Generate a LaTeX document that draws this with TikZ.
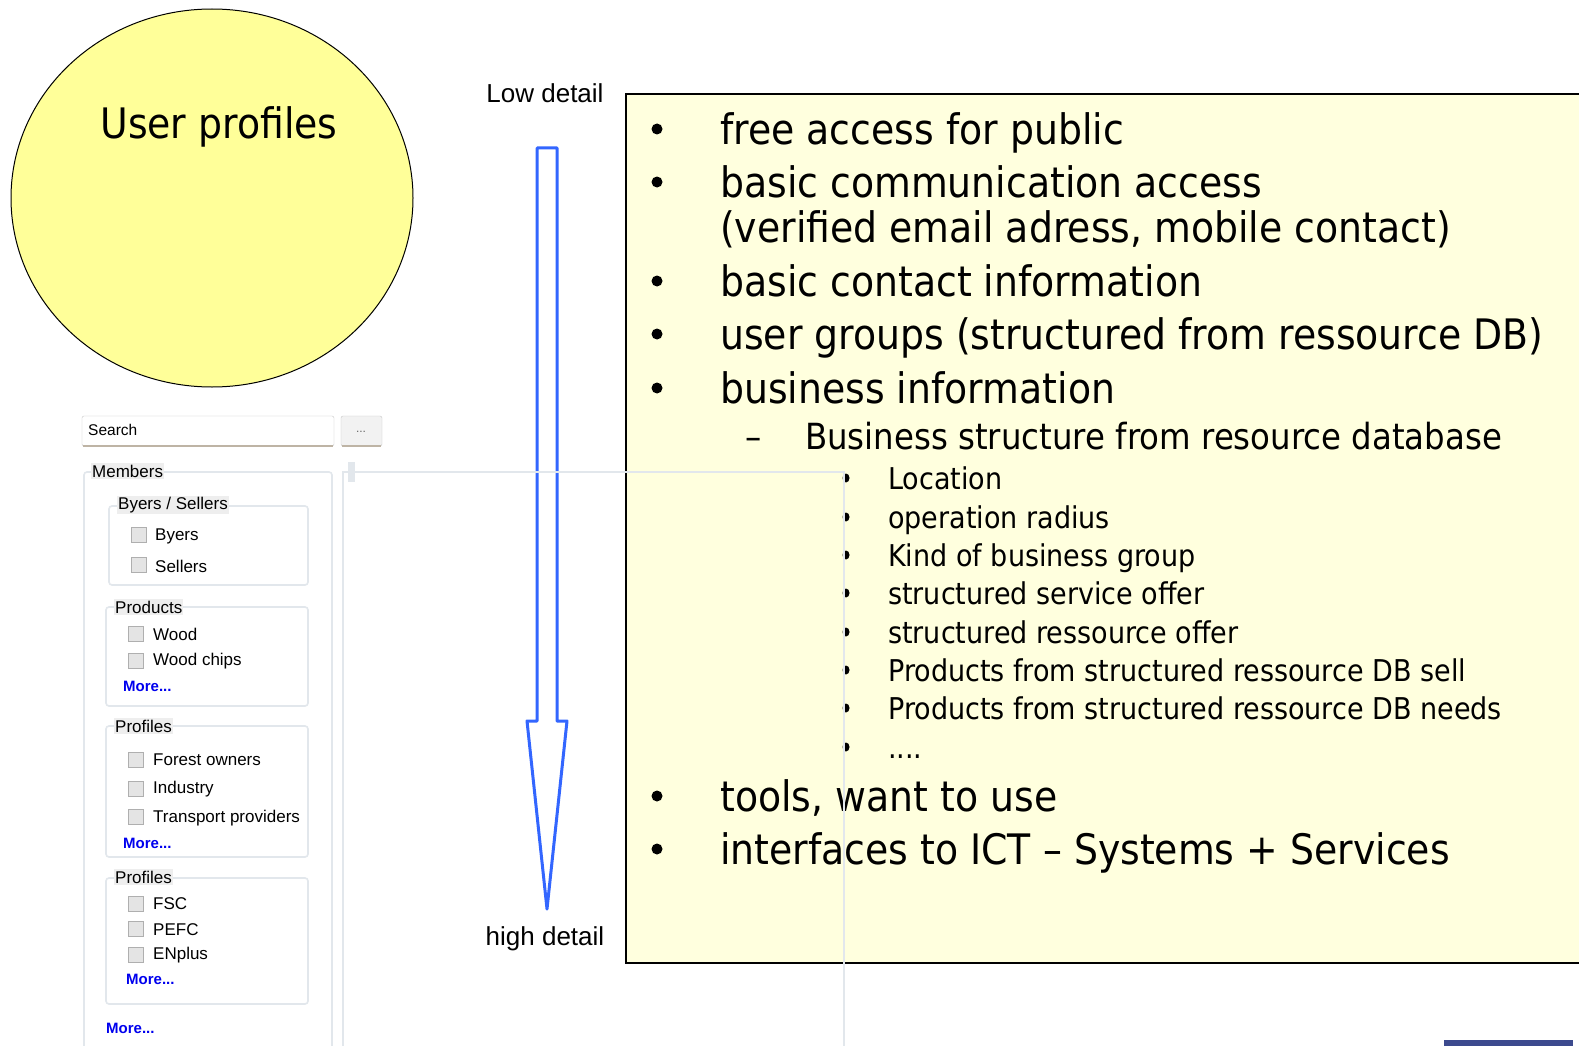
\documentclass[tikz,border=0pt]{standalone}
\usepackage{fontspec}
\setmainfont{Liberation Sans}
\newfontfamily\tah[FakeStretch=0.90]{DejaVu Sans}
\definecolor{circfill}{RGB}{255,255,153}
\definecolor{boxfill}{RGB}{255,255,222}
\definecolor{arrowblue}{RGB}{51,102,255}
\definecolor{uigray}{RGB}{226,231,236}
\definecolor{legendbg}{RGB}{238,238,238}
\definecolor{chkborder}{RGB}{175,175,175}
\definecolor{chkfill}{RGB}{228,228,228}
\definecolor{moreblue}{RGB}{0,0,238}
\definecolor{tanline}{RGB}{190,180,165}
\definecolor{barblue}{RGB}{60,74,142}
\newcommand\fMain{\tah\fontsize{42}{44}\selectfont}
\newcommand\fSub{\tah\fontsize{36}{40}\selectfont}
\newcommand\fSubsub{\tah\fontsize{30}{34}\selectfont}
\newcommand\fUi{\fontsize{17}{20}\selectfont}
\tikzset{
  uiframe/.style={draw=uigray, line width=1.6pt, rounded corners=3pt},
  legend/.style={fill=legendbg, inner xsep=1pt, inner ysep=1.5pt, anchor=west, font=\fUi},
  chk/.style={draw=chkborder, fill=chkfill, minimum size=15pt, inner sep=0pt, line width=1pt, anchor=west},
  uiitem/.style={anchor=west, font=\fUi, inner sep=0pt},
  more/.style={anchor=west, font=\fontsize{15}{18}\selectfont\bfseries, text=moreblue, inner sep=0pt},
  mainitem/.style={anchor=base west, inner sep=0pt, font=\fMain},
  subitem/.style={anchor=base west, inner sep=0pt, font=\fSub},
  subsubitem/.style={anchor=base west, inner sep=0pt, font=\fSubsub},
  detail/.style={inner sep=0pt, font=\fontsize{26}{30}\selectfont},
}
\begin{document}
\begin{tikzpicture}[x=1pt,y=-1pt]
\useasboundingbox (0,0) rectangle (1579,1046);
\fill[white] (0,0) rectangle (1579,1046);

% circle
\draw[fill=circfill, line width=1pt] (212,198) ellipse [x radius=201, y radius=189];
\node[anchor=base, inner sep=0pt, font=\fMain] (up) at (219,139) {User profiles};

% labels
\node[detail] (low) at (545,93) {Low detail};
\node[detail] (high) at (545,939) {high detail};

% arrow
\draw[arrowblue, line width=3pt, fill=white, line join=round]
  (537,148) -- (557,148) -- (557,721) -- (567,721) -- (547,909) -- (527,721) -- (537,721) -- cycle;

% yellow box
\draw[fill=boxfill, line width=2pt] (626,94) rectangle (1600,963);

% main bullets
\foreach \y in {129,182,281,334,388,796,849} \fill (657,\y) circle (5.5);
\node[mainitem] (i1) at (720,144) {free access for public};
\node[mainitem] (i2) at (720,197) {basic communication access};
\node[mainitem] (i2b) at (720,242) {(verified email adress, mobile contact)};
\node[mainitem] (i3) at (720,296) {basic contact information};
\node[mainitem] (i4) at (720,349) {user groups (structured from ressource DB)};
\node[mainitem] (i5) at (720,403) {business information};
\node[subitem] (dash) at (745,449) {–};
\node[subitem] (s1) at (805,449) {Business structure from resource database};
\foreach \y in {478,517,555,593,632,670,708,747} \fill (846,\y) ellipse [x radius=3.5, y radius=4.5];
\node[subsubitem] (t1) at (888,489) {Location};
\node[subsubitem] (t2) at (888,528) {operation radius};
\node[subsubitem] (t3) at (888,566) {Kind of business group};
\node[subsubitem] (t4) at (888,604) {structured service offer};
\node[subsubitem] (t5) at (888,643) {structured ressource offer};
\node[subsubitem] (t6) at (888,681) {Products from structured ressource DB sell};
\node[subsubitem] (t7) at (888,719) {Products from structured ressource DB needs};
\node[subsubitem] (t8) at (888,758) {....};
\node[mainitem] (i6) at (720,811) {tools, want to use};
\node[mainitem] (i7) at (720,864) {interfaces to ICT – Systems + Services};

% UI panel: search
\draw[draw=black!22, fill=white, rounded corners=2pt] (82,416) rectangle (334,446);
\draw[tanline, line width=1.5pt] (83,446) -- (333,446);
\node[uiitem, font=\fontsize{15.5}{18}\selectfont] (search) at (88,430) {Search};
\draw[draw=black!22, fill=black!5, rounded corners=2pt] (341,416) rectangle (382,446);
\draw[tanline, line width=1.5pt] (342,446) -- (381,446);
\node[inner sep=0pt, font=\fontsize{12}{14}\selectfont, text=black!60] (btn) at (361,432) {...};

% right panel lines
\draw[uigray, line width=1.6pt] (343,1050) -- (343,472) -- (844,472) -- (844,1050);
\fill[uigray] (348,462) rectangle (355,482);

% Members frame
\draw[uiframe] (84,1060) -- (84,472) -- (332,472) -- (332,1060);
\node[legend] (members) at (91,471) {Members};

% Byers / Sellers
\draw[uiframe] (109,506) rectangle (308,585);
\node[legend] (bs) at (117,505) {Byers / Sellers};
\node[chk] (c1) at (131,535) {};
\node[uiitem] (byers) at (155,536) {Byers};
\node[chk] (c2) at (131,565) {};
\node[uiitem] (sellers) at (155,566) {Sellers};

% Products
\draw[uiframe] (106,607) rectangle (308,706);
\node[legend] (prod) at (114,607) {Products};
\node[chk] (c3) at (128,634) {};
\node[uiitem] (wood) at (153,634) {Wood};
\node[chk] (c4) at (128,661) {};
\node[uiitem] (chips) at (153,661) {Wood chips};
\node[more] (m1) at (123,686) {More...};

% Profiles 1
\draw[uiframe] (106,726) rectangle (308,857);
\node[legend] (prof1) at (114,726) {Profiles};
\node[chk] (c5) at (128,760) {};
\node[uiitem] (forest) at (153,760) {Forest owners};
\node[chk] (c6) at (128,789) {};
\node[uiitem] (industry) at (153,789) {Industry};
\node[chk] (c7) at (128,817) {};
\node[uiitem] (transport) at (153,818) {Transport providers};
\node[more] (m2) at (123,843) {More...};

% Profiles 2
\draw[uiframe] (106,878) rectangle (308,1004);
\node[legend] (prof2) at (114,877) {Profiles};
\node[chk] (c8) at (128,904) {};
\node[uiitem] (fsc) at (153,904) {FSC};
\node[chk] (c9) at (128,929) {};
\node[uiitem] (pefc) at (153,930) {PEFC};
\node[chk] (c10) at (128,955) {};
\node[uiitem] (enplus) at (153,955) {ENplus};
\node[more] (m3) at (126,979) {More...};
\node[more] (m4) at (106,1028) {More...};

% bottom right bar
\fill[barblue] (1444,1040) rectangle (1573,1046);
\end{tikzpicture}
\end{document}
